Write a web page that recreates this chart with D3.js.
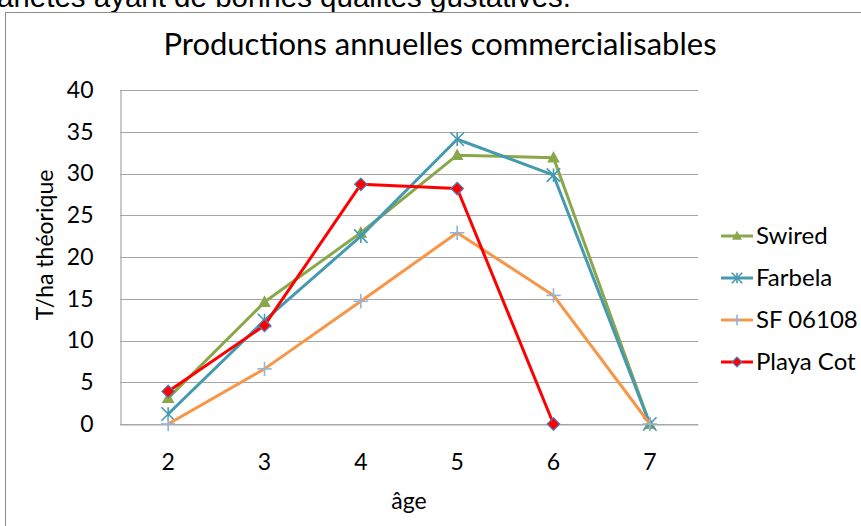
<!DOCTYPE html>
<html><head><meta charset="utf-8">
<script src="https://cdn.jsdelivr.net/npm/d3@7"></script>
<style>body{margin:0;background:#fff;}svg{display:block;}</style>
</head><body>
<svg id="c" width="861" height="526"></svg>
<script>
const ages = [2, 3, 4, 5, 6, 7];
const swired   = [3.1, 14.6, 22.9, 32.2, 31.9, 0];
const farbela  = [1.2, 12.4, 22.5, 34.1, 29.8, 0];
const sf06108  = [0, 6.6, 14.7, 22.9, 15.4, 0];
const playaCot = [3.9, 11.8, 28.7, 28.2, 0, null];
const yTicks = [0, 5, 10, 15, 20, 25, 30, 35, 40];
const seriesNames = ["Swired", "Farbela", "SF 06108", "Playa Cot"];
const seriesData = [swired, farbela, sf06108, playaCot];
const lineColors = ["#8AA84B", "#4599B0", "#F79646", "#FF0000"];
const markerTypes = ["triangle", "star", "plus", "diamond"];

const svg = d3.select("#c");
const font = "Lato, 'Open Sans', sans-serif";
const L = 120, R = 698, T = 90, B = 424;

// clipped text above chart
svg.append("text").attr("x", 571).attr("y", 7).attr("text-anchor", "end")
  .attr("font-family", "'Liberation Sans', Arial, sans-serif").attr("font-size", 29.5)
  .attr("fill", "#000").text("variétés ayant de bonnes qualités gustatives.");

// chart border
svg.append("rect").attr("x", 5.5).attr("y", 12.5).attr("width", 900).attr("height", 600)
  .attr("fill", "#fff").attr("stroke", "#8c8c8c").attr("stroke-width", 1);

svg.append("text").attr("x", 440).attr("y", 55).attr("text-anchor", "middle")
  .attr("font-family", font).attr("font-size", 31).attr("fill", "#000")
  .text("Productions annuelles commercialisables");

const x = d3.scaleBand().domain(ages).range([L, R]);
const y = d3.scaleLinear().domain([0, 40]).range([B, T]);

// gridlines
svg.append("g").selectAll("line").data(yTicks).join("line")
  .attr("x1", L).attr("x2", R)
  .attr("y1", d => Math.round(y(d)) + 0.5).attr("y2", d => Math.round(y(d)) + 0.5)
  .attr("stroke", "#a6a6a6").attr("stroke-width", 1.2);

// y axis
const yAxis = svg.append("g").attr("transform", `translate(${L + 0.5},0)`)
  .call(d3.axisLeft(y).tickValues(yTicks).tickSize(0).tickPadding(27));
yAxis.select(".domain").attr("stroke", "#a6a6a6").attr("stroke-width", 1.2);
yAxis.selectAll("text").attr("font-family", font).attr("font-size", 23).attr("fill", "#000");

// x axis
const xAxis = svg.append("g").attr("transform", `translate(0,${Math.round(B) + 0.5})`)
  .call(d3.axisBottom(x).tickSize(0).tickPadding(29));
xAxis.select(".domain").attr("stroke", "#a6a6a6").attr("stroke-width", 1.2);
xAxis.selectAll("text").attr("font-family", font).attr("font-size", 23).attr("fill", "#000");

svg.append("text").attr("x", 409).attr("y", 509).attr("text-anchor", "middle")
  .attr("font-family", font).attr("font-size", 23).attr("fill", "#000").text("âge");
svg.append("text").attr("transform", "translate(53,245) rotate(-90)").attr("text-anchor", "middle")
  .attr("font-family", font).attr("font-size", 23).attr("fill", "#000").text("T/ha théorique");

function drawMarker(g, type, cx, cy, color, size) {
  if (type === "triangle") {
    const s = size;
    g.append("path").attr("d", `M${cx},${cy - s * 0.75}L${cx + s * 0.7},${cy + s * 0.55}L${cx - s * 0.7},${cy + s * 0.55}Z`)
      .attr("fill", color);
  } else if (type === "star") {
    const s = size * 0.75;
    [[-s, -s, s, s], [-s, s, s, -s], [0, -s, 0, s]].forEach(l => {
      g.append("line").attr("x1", cx + l[0]).attr("y1", cy + l[1]).attr("x2", cx + l[2]).attr("y2", cy + l[3])
        .attr("stroke", color).attr("stroke-width", 1.6);
    });
  } else if (type === "plus") {
    const s = size * 0.8;
    g.append("line").attr("x1", cx - s).attr("x2", cx + s).attr("y1", cy).attr("y2", cy).attr("stroke", "#95B3D7").attr("stroke-width", 1.6);
    g.append("line").attr("x1", cx).attr("x2", cx).attr("y1", cy - s).attr("y2", cy + s).attr("stroke", "#95B3D7").attr("stroke-width", 1.6);
  } else if (type === "diamond") {
    const s = size * 0.7;
    g.append("path").attr("d", `M${cx},${cy - s}L${cx + s},${cy}L${cx},${cy + s}L${cx - s},${cy}Z`)
      .attr("fill", color).attr("stroke", "#4F81BD").attr("stroke-width", 1.2);
  }
}

const lineGen = d3.line().defined(d => d.v != null)
  .x(d => x(d.a) + x.bandwidth() / 2).y(d => y(d.v));

seriesData.forEach((vals, i) => {
  const pts = ages.map((a, j) => ({ a, v: vals[j] }));
  const g = svg.append("g");
  g.append("path").datum(pts).attr("d", lineGen).attr("fill", "none")
    .attr("stroke", lineColors[i]).attr("stroke-width", 3).attr("stroke-linejoin", "round");
  pts.filter(p => p.v != null).forEach(p => {
    drawMarker(g, markerTypes[i], x(p.a) + x.bandwidth() / 2, y(p.v), lineColors[i], 9);
  });
});

// legend
const leg = svg.append("g");
seriesNames.forEach((n, i) => {
  const yy = 236 + i * 42;
  leg.append("line").attr("x1", 721).attr("x2", 753).attr("y1", yy).attr("y2", yy)
    .attr("stroke", lineColors[i]).attr("stroke-width", 3);
  drawMarker(leg, markerTypes[i], 737, yy, lineColors[i], 7);
  leg.append("text").attr("x", 756).attr("y", yy + 8).attr("font-family", font)
    .attr("font-size", 24).attr("fill", "#000").text(n);
});
</script>
</body></html>
